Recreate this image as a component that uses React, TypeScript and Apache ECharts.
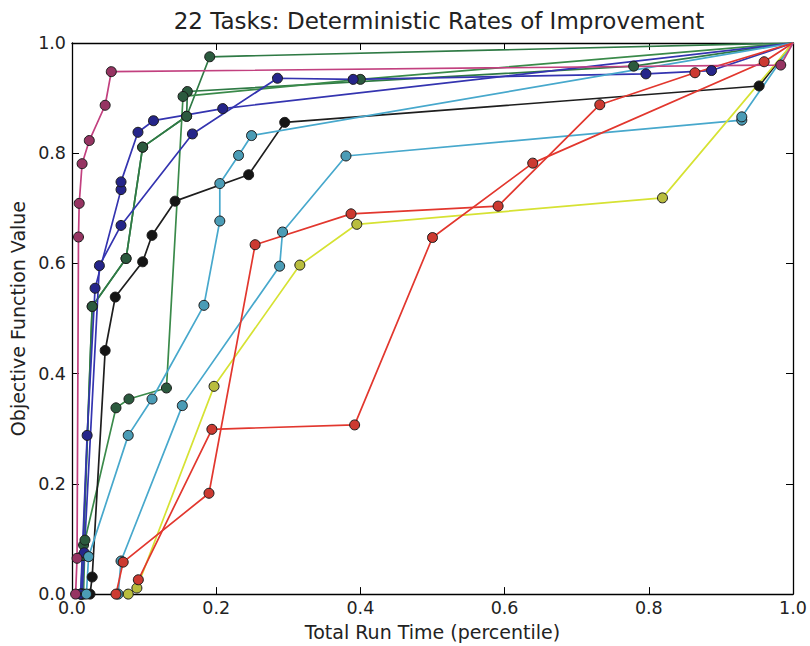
import React, { useEffect, useRef } from "react";
import * as echarts from "echarts";

const titleText = "22 Tasks: Deterministic Rates of Improvement";
const xName = "Total Run Time (percentile)";
const yName = "Objective Function Value";
const tickValues = [0, 0.2, 0.4, 0.6, 0.8, 1.0];

// [x, y] points per task
const magenta = [[0.005, 0.0], [0.007, 0.065], [0.009, 0.648], [0.010, 0.709], [0.014, 0.781], [0.024, 0.823], [0.046, 0.887], [0.0545, 0.948], [0.983, 0.96], [1.0, 1.0]];
const greenA = [[0.013, 0.0], [0.016, 0.089], [0.028, 0.522], [0.075, 0.609], [0.098, 0.811], [0.159, 0.867], [0.191, 0.975], [1.0, 1.0]];
const greenC = [[0.012, 0.0], [0.015, 0.07], [0.028, 0.522], [0.075, 0.609], [0.098, 0.811], [0.159, 0.867], [0.160, 0.912], [0.779, 0.958], [1.0, 1.0]];
const greenB = [[0.016, 0.0], [0.018, 0.098], [0.061, 0.338], [0.079, 0.354], [0.131, 0.374], [0.154, 0.903], [0.40, 0.934], [1.0, 1.0]];
const blueA = [[0.014, 0.0], [0.017, 0.075], [0.038, 0.596], [0.068, 0.669], [0.167, 0.835], [0.285, 0.936], [0.390, 0.934], [0.796, 0.944], [0.887, 0.95], [1.0, 1.0]];
const blueB = [[0.012, 0.0], [0.021, 0.288], [0.032, 0.555], [0.068, 0.734], [0.068, 0.748], [0.0915, 0.838], [0.113, 0.859], [0.209, 0.881], [1.0, 1.0]];
const black = [[0.025, 0.0], [0.028, 0.031], [0.046, 0.442], [0.060, 0.539], [0.098, 0.603], [0.111, 0.651], [0.143, 0.713], [0.245, 0.761], [0.295, 0.856], [0.953, 0.922], [1.0, 1.0]];
const cyanA = [[0.020, 0.0], [0.023, 0.068], [0.078, 0.288], [0.111, 0.354], [0.183, 0.524], [0.205, 0.677], [0.205, 0.745], [0.231, 0.796], [0.249, 0.832], [1.0, 1.0]];
const cyanB = [[0.064, 0.0], [0.068, 0.06], [0.153, 0.342], [0.288, 0.595], [0.292, 0.657], [0.380, 0.795], [0.929, 0.86], [0.929, 0.866], [1.0, 1.0]];
const yellow = [[0.078, 0.0], [0.090, 0.011], [0.197, 0.377], [0.316, 0.597], [0.395, 0.671], [0.819, 0.719], [1.0, 1.0]];
const redC = [[0.092, 0.026], [0.194, 0.299], [0.392, 0.307], [0.500, 0.647], [0.639, 0.782], [0.960, 0.966], [1.0, 1.0]];
const redD = [[0.061, 0.0], [0.071, 0.058], [0.190, 0.183], [0.254, 0.634], [0.387, 0.690], [0.591, 0.704], [0.732, 0.888], [0.864, 0.946], [1.0, 1.0]];

const seriesDefs = [
  { name: "greenA", data: greenA, line: "#2f7a45", marker: "#2b5a3e" },
  { name: "greenC", data: greenC, line: "#2f7a45", marker: "#2b5a3e" },
  { name: "greenB", data: greenB, line: "#3a8a4a", marker: "#2b5a3e" },
  { name: "black", data: black, line: "#1e1e1e", marker: "#151515" },
  { name: "blueA", data: blueA, line: "#3434b0", marker: "#25258a" },
  { name: "blueB", data: blueB, line: "#3434b0", marker: "#25258a" },
  { name: "cyanA", data: cyanA, line: "#47a8cc", marker: "#4b9cb6" },
  { name: "cyanB", data: cyanB, line: "#47a8cc", marker: "#4b9cb6" },
  { name: "yellow", data: yellow, line: "#d6e233", marker: "#b9bd3e" },
  { name: "redD", data: redD, line: "#e2372e", marker: "#cc3a31" },
  { name: "redC", data: redC, line: "#e2372e", marker: "#cc3a31" },
  { name: "magenta", data: magenta, line: "#c2407f", marker: "#963462" },
];

const FONT = "DejaVu Sans";

export default function App() {
  const ref = useRef<HTMLDivElement>(null);
  useEffect(() => {
    document.body.style.margin = "0";
    const chart = echarts.init(ref.current!, undefined, { renderer: "svg" });
    const axisCommon = {
      type: "value",
      min: 0,
      max: 1,
      interval: 0.2,
      splitLine: { show: false },
      axisLine: { show: true, onZero: false, lineStyle: { color: "#000", width: 1.3 } },
      axisTick: { show: true, inside: true, length: 7, lineStyle: { color: "#000", width: 1 } },
    };
    const labelFmt = (v: number) => (tickValues.some((t) => Math.abs(t - v) < 1e-9) ? v.toFixed(1) : "");
    chart.setOption({
      animation: false,
      backgroundColor: "#fff",
      title: {
        text: titleText,
        left: 434,
        textAlign: "center",
        top: 4,
        textStyle: { fontFamily: FONT, fontSize: 23, fontWeight: "normal", color: "#222" },
      },
      grid: { left: 72, right: 17, top: 43, bottom: 50, containLabel: false },
      xAxis: [
        {
          ...axisCommon,
          position: "bottom",
          name: xName,
          nameLocation: "middle",
          nameGap: 27,
          nameTextStyle: { fontFamily: FONT, fontSize: 19, color: "#222" },
          axisLabel: { fontFamily: FONT, fontSize: 17.5, color: "#222", margin: 5, formatter: labelFmt },
        },
        {
          ...axisCommon,
          position: "top",
          axisLabel: { show: false },
        },
      ],
      yAxis: [
        {
          ...axisCommon,
          position: "left",
          name: yName,
          nameLocation: "middle",
          nameGap: 43,
          nameTextStyle: { fontFamily: FONT, fontSize: 19, color: "#222" },
          axisLabel: { fontFamily: FONT, fontSize: 17.5, color: "#222", margin: 6, formatter: labelFmt },
        },
        {
          ...axisCommon,
          position: "right",
          axisLabel: { show: false },
        },
      ],
      series: seriesDefs.map((s) => ({
        name: s.name,
        type: "line",
        xAxisIndex: 0,
        yAxisIndex: 0,
        data: s.data.map((p) => (p[0] >= 1 && p[1] >= 1 ? { value: p, symbol: "none" } : p)),
        symbol: "circle",
        symbolSize: 10,
        showSymbol: true,
        clip: true,
        lineStyle: { color: s.line, width: 1.7 },
        itemStyle: { color: s.marker, borderColor: "#1a1a1a", borderWidth: 1 },
        emphasis: { disabled: true },
      })),
    });
    return () => chart.dispose();
  }, []);
  return <div ref={ref} style={{ position: "absolute", left: 0, top: 0, width: 810, height: 646 }} />;
}
